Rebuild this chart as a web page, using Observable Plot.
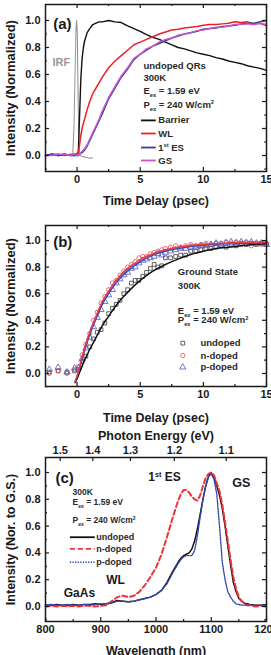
<!DOCTYPE html>
<html><head><meta charset="utf-8">
<script src="https://cdn.jsdelivr.net/npm/d3@7"></script>
<script src="https://cdn.jsdelivr.net/npm/@observablehq/plot@0.6"></script>
<style>
html,body{margin:0;padding:0;background:#fff;}
#wrap{position:relative;width:271px;height:655px;overflow:hidden;background:#fff;}
.panel{position:absolute;left:0;}
</style></head><body><div id="wrap"></div>
<script>
// ---------- Panel (a): undoped QRs, time-resolved PL ----------
const timeA = [-2.5,-2,-1.5,-1,-0.5,-0.25,0,0.1,0.2,0.3,0.4,0.5,0.6,0.8,1,1.25,1.5,1.75,2,2.5,3,3.5,4,4.5,5,5.5,6,6.5,7,7.5,8,8.5,9,9.5,10,10.5,11,11.5,12,12.5,13,13.5,14,14.5,15];
const barrierA = [0.0,0.01,0.0,0.01,0.0,0.01,0.01,0.03,0.3,0.57,0.72,0.8,0.85,0.91,0.94,0.97,0.98,0.99,0.99,1.0,0.99,0.985,0.96,0.94,0.92,0.895,0.875,0.86,0.84,0.82,0.8,0.79,0.775,0.76,0.75,0.74,0.725,0.715,0.7,0.69,0.68,0.665,0.655,0.645,0.63];
const wlA = [0.0,0.01,0.01,0.0,0.01,0.0,0.01,0.02,0.08,0.15,0.2,0.24,0.27,0.34,0.4,0.46,0.5,0.54,0.58,0.65,0.7,0.74,0.78,0.82,0.84,0.86,0.88,0.9,0.915,0.93,0.935,0.945,0.95,0.955,0.965,0.97,0.97,0.975,0.98,0.99,0.985,0.99,0.975,0.98,0.96];
const esA = [0.0,0.01,0.0,0.01,0.0,0.0,0.0,0.0,0.01,0.02,0.02,0.03,0.04,0.07,0.11,0.16,0.21,0.26,0.31,0.42,0.5,0.58,0.64,0.71,0.75,0.78,0.81,0.83,0.85,0.87,0.885,0.9,0.91,0.92,0.935,0.94,0.945,0.955,0.96,0.965,0.975,0.98,0.98,0.99,1.0];
const gsA = [0.0,0.0,0.01,0.01,0.0,0.01,0.0,0.0,0.01,0.02,0.03,0.04,0.05,0.08,0.12,0.17,0.22,0.27,0.33,0.43,0.51,0.59,0.65,0.72,0.75,0.79,0.81,0.84,0.86,0.87,0.89,0.9,0.91,0.925,0.93,0.94,0.95,0.95,0.96,0.97,0.97,0.975,0.97,0.98,0.97];
const irfTime = [-0.35,-0.25,-0.15,-0.08,-0.03,0.02,0.08,0.15,0.25,0.5,0.8,1.1,1.3];
const irfValues = [0.0,0.2,0.65,0.95,1.0,0.9,0.45,0.05,0.0,-0.01,-0.015,-0.02,-0.015];

// ---------- Panel (b): ground state rise ----------
const timeB = [-2.2,-1.5,-0.8,-0.2,0.1,0.4,0.7,1.0,1.3,1.6,1.9,2.2,2.5,2.8,3.1,3.4,3.7,4.0,4.3,4.6,4.9,5.2,5.5,5.8,6.1,6.4,6.7,7.0,7.4,7.8,8.2,8.6,9.0,9.4,9.8,10.2,10.6,11.0,11.4,11.8,12.2,12.6,13.0,13.4,13.8,14.2,14.6,15.0];
const undopedB = [0.01,0.02,0.01,0.02,0.03,0.09,0.13,0.2,0.26,0.31,0.33,0.38,0.45,0.49,0.52,0.55,0.6,0.63,0.68,0.7,0.7,0.73,0.76,0.79,0.82,0.8,0.81,0.87,0.87,0.88,0.89,0.89,0.92,0.92,0.93,0.94,0.94,0.95,0.96,0.95,0.97,0.96,0.98,0.97,0.98,0.97,0.98,0.97];
const ndopedB = [0.0,0.02,0.0,0.03,0.05,0.14,0.22,0.3,0.4,0.46,0.53,0.58,0.63,0.68,0.7,0.74,0.77,0.8,0.82,0.84,0.87,0.88,0.88,0.9,0.91,0.92,0.93,0.94,0.95,0.96,0.95,0.96,0.97,0.96,0.97,0.98,0.97,0.98,0.98,0.99,0.98,0.99,0.97,0.99,0.96,0.98,0.97,0.98];
const pdopedB = [0.03,0.045,0.01,0.04,0.04,0.11,0.19,0.27,0.35,0.42,0.48,0.54,0.59,0.63,0.68,0.71,0.74,0.76,0.79,0.8,0.83,0.85,0.86,0.87,0.88,0.9,0.89,0.91,0.92,0.93,0.94,0.94,0.95,0.95,0.96,0.96,0.97,0.98,0.97,0.98,0.99,0.98,0.99,0.98,0.99,0.98,0.98,0.97];
const fitTimeB = [-0.15,0,0.25,0.5,0.75,1,1.5,2,2.5,3,3.5,4,5,6,7,8,9,10,11,12,13,14,15];
const undopedFit = [-0.07,-0.04,0.02,0.08,0.13,0.18,0.27,0.36,0.43,0.5,0.56,0.61,0.7,0.77,0.82,0.86,0.895,0.92,0.94,0.95,0.96,0.97,0.975];
const ndopedFit = [-0.06,-0.02,0.07,0.16,0.24,0.31,0.43,0.54,0.62,0.69,0.745,0.79,0.855,0.9,0.93,0.95,0.963,0.972,0.978,0.982,0.985,0.987,0.988];
const pdopedFit = [-0.06,-0.02,0.06,0.14,0.22,0.29,0.41,0.52,0.6,0.67,0.725,0.77,0.84,0.89,0.92,0.94,0.955,0.965,0.972,0.977,0.98,0.982,0.984];

// ---------- Panel (c): PL spectra ----------
const wavelength = [800,810,820,830,840,850,860,870,880,890,900,910,920,930,940,950,960,970,980,990,1000,1010,1020,1030,1040,1045,1050,1055,1060,1065,1070,1075,1080,1085,1090,1095,1100,1105,1110,1115,1120,1125,1130,1135,1140,1145,1150,1155,1160,1165,1170,1180,1190,1200];
const undopedC = [0.01,0.01,0.015,0.01,0.01,0.015,0.01,0.015,0.015,0.02,0.015,0.02,0.03,0.045,0.04,0.035,0.04,0.05,0.06,0.07,0.09,0.12,0.18,0.26,0.33,
  0.36,0.38,0.39,0.4,0.43,0.49,0.58,0.69,0.8,0.9,0.97,1.0,0.96,0.9,0.83,0.73,0.6,0.455,0.31,0.18,0.11,0.06,0.04,0.025,0.02,0.015,
  0.01,0.01,0.015];
const ndopedC = [0.0,0.005,0.0,0.005,0.0,0.005,0.0,0.005,0.005,0.0,0.005,0.01,0.04,0.07,0.08,0.07,0.08,0.11,0.16,0.22,0.29,0.39,0.52,0.66,0.79,
  0.84,0.87,0.87,0.85,0.82,0.8,0.79,0.83,0.9,0.96,0.99,1.0,0.98,0.92,0.86,0.76,0.63,0.49,0.35,0.22,0.13,0.07,0.04,0.02,0.01,0.01,
  0.0,0.005,0.0];
const pdopedC = [0.01,0.015,0.01,0.01,0.015,0.01,0.01,0.015,0.01,0.015,0.02,0.02,0.025,0.04,0.04,0.035,0.04,0.05,0.06,0.07,0.09,0.12,0.17,0.25,0.32,
  0.35,0.37,0.38,0.38,0.38,0.42,0.53,0.67,0.8,0.9,0.97,0.99,0.95,0.84,0.6,0.33,0.2,0.11,0.07,0.04,0.02,0.015,0.01,0.01,0.01,0.01,
  0.01,0.01,0.01];

// ---------- ticks ----------
const timeTicks = [0,5,10,15];
const timeMinor = [2.5,7.5,12.5];
const intensityTicks = [0,0.2,0.4,0.6,0.8,1.0];
const intensityMinor = [-0.1,0.1,0.3,0.5,0.7,0.9];
const wavelengthTicks = [800,900,1000,1100,1200];
const wavelengthMinor = [850,950,1050,1150];
const energyTicks = [1.5,1.4,1.3,1.2,1.1];
const HC = 1239.84; // eV*nm

const FONT = "'Liberation Sans', Arial, Helvetica, sans-serif";
const INK = "#1a1a1a";

function edgeTicks({xdom, ydom, iw, ih, xMajor, xMinor, yMajor, yMinor, topMajor = xMajor, topMinor = xMinor}) {
  const ux = (xdom[1]-xdom[0])/iw, uy = (ydom[1]-ydom[0])/ih;
  const st = {stroke: INK, strokeWidth: 1.2};
  const bx = (v, n) => Plot.ruleX(v, {x: d=>d, y1: ydom[0], y2: ydom[0] + n*uy, ...st});
  const tx = (v, n) => Plot.ruleX(v, {x: d=>d, y1: ydom[1], y2: ydom[1] - n*uy, ...st});
  const ly = (v, n) => Plot.ruleY(v, {y: d=>d, x1: xdom[0], x2: xdom[0] + n*ux, ...st});
  const ry = (v, n) => Plot.ruleY(v, {y: d=>d, x1: xdom[1], x2: xdom[1] - n*ux, ...st});
  return [bx(xMajor,4), bx(xMinor,2), tx(topMajor,4), tx(topMinor,2), ly(yMajor,4), ly(yMinor,2), ry(yMajor,4), ry(yMinor,2)];
}
function note(x, y, s, o = {}) {
  return Plot.text([s], {x: () => x, y: () => y, text: d => d, textAnchor: "start", lineAnchor: "middle", fontSize: 9.5, fontWeight: "bold", fill: "#2a2a2a", ...o});
}
function title(s, o) {
  return Plot.text([s], {text: d => d, textAnchor: "middle", lineAnchor: "middle", fontWeight: "bold", fill: INK, ...o});
}
function richify(svg) {
  svg.querySelectorAll("text").forEach(t => {
    if (t.querySelector("tspan")) return;
    const s = t.textContent;
    if (!/[_^]\{/.test(s)) return;
    const fs = parseFloat(getComputedStyle(t).fontSize) || 10;
    t.textContent = "";
    let shift = 0;
    s.split(/([_^]\{[^}]*\})/).forEach(p => {
      if (!p) return;
      let target = 0, size = fs;
      if (p.startsWith("_{")) { target = fs*0.32; size = fs*0.6; p = p.slice(2,-1); }
      else if (p.startsWith("^{")) { target = -fs*0.4; size = fs*0.6; p = p.slice(2,-1); }
      const ts = document.createElementNS("http://www.w3.org/2000/svg", "tspan");
      ts.setAttribute("dy", target - shift); shift = target;
      ts.setAttribute("font-size", size);
      ts.textContent = p;
      t.appendChild(ts);
    });
  });
}
const style = {fontFamily: FONT, fontWeight: "bold", fontSize: "11px", color: INK, background: "white", overflow: "visible"};
const wrap = document.getElementById("wrap");
function place(svg, top) {
  const d = document.createElement("div");
  d.className = "panel"; d.style.top = top + "px";
  d.appendChild(svg); wrap.appendChild(d); richify(svg);
}

// ----- Panel (a) -----
{
  const xdom = [-2.5, 15], ydom = [-0.1185, 1.1185];
  const W = 271, H = 212, mt = 4, mb = 41, ml = 45, mr = 5;
  const cols = {Barrier: "#111111", WL: "#ec2027", ES: "#2e3fa8", GS: "#c955c8"};
  const svg = Plot.plot({
    width: W, height: H, marginTop: mt, marginBottom: mb, marginLeft: ml, marginRight: mr,
    style, x: {domain: xdom}, y: {domain: ydom},
    marks: [
      Plot.axisX(timeTicks, {tickSize: 0, tickPadding: 4, label: null, fontSize: 11}),
      Plot.axisY(intensityTicks, {tickSize: 0, tickPadding: 5, tickFormat: ".1f", label: null, fontSize: 11}),
      title("Time Delay (psec)", {frameAnchor: "bottom", dy: 29, fontSize: 12.5}),
      title("Intensity (Normalized)", {frameAnchor: "left", rotate: -90, dx: -35, fontSize: 13}),
      Plot.line(irfTime, {x: irfTime, y: irfValues, stroke: "#8f8f8f", strokeWidth: 1.1, strokeDasharray: "1,1"}),
      Plot.line(timeA, {x: timeA, y: barrierA, stroke: cols.Barrier, strokeWidth: 1.4}),
      Plot.line(timeA, {x: timeA, y: wlA, stroke: cols.WL, strokeWidth: 1.5}),
      Plot.line(timeA, {x: timeA, y: esA, stroke: cols.ES, strokeWidth: 1.5}),
      Plot.line(timeA, {x: timeA, y: gsA, stroke: cols.GS, strokeWidth: 1.5}),
      note(-1.89, 0.975, "(a)", {fontSize: 15, fill: INK}),
      note(-1.95, 0.69, "IRF", {fontSize: 11, fill: "#999"}),
      note(5.26, 0.667, "undoped QRs"),
      note(5.26, 0.578, "300K"),
      note(5.26, 0.48, "E_{ex} = 1.59 eV"),
      note(5.26, 0.378, "P_{ex} = 240 W/cm^{2}"),
      Plot.ruleY([0.26], {x1: 5.1, x2: 6.27, stroke: cols.Barrier, strokeWidth: 1.8}),
      Plot.ruleY([0.163], {x1: 5.1, x2: 6.27, stroke: cols.WL, strokeWidth: 1.8}),
      Plot.ruleY([0.059], {x1: 5.1, x2: 6.27, stroke: cols.ES, strokeWidth: 1.8}),
      Plot.ruleY([-0.037], {x1: 5.1, x2: 6.27, stroke: cols.GS, strokeWidth: 1.8}),
      note(6.43, 0.26, "Barrier"),
      note(6.43, 0.163, "WL"),
      note(6.43, 0.059, "1^{st} ES"),
      note(6.43, -0.037, "GS"),
      ...edgeTicks({xdom, ydom, iw: W-ml-mr, ih: H-mt-mb, xMajor: timeTicks, xMinor: timeMinor, yMajor: intensityTicks, yMinor: intensityMinor}),
      Plot.frame({stroke: INK, strokeWidth: 1.5})
    ]
  });
  place(svg, 0);
}

// ----- Panel (b) -----
{
  const xdom = [-2.5, 15], ydom = [-0.098, 1.113];
  const W = 271, H = 218, mt = 13, mb = 44, ml = 45, mr = 5;
  const cols = {un: "#3a3a3a", n: "#e8474f", p: "#4a5ac4", unL: "#111", nL: "#e83a40", pL: "#3b4cc0"};
  const svg = Plot.plot({
    width: W, height: H, marginTop: mt, marginBottom: mb, marginLeft: ml, marginRight: mr,
    style, x: {domain: xdom}, y: {domain: ydom},
    marks: [
      Plot.axisX(timeTicks, {tickSize: 0, tickPadding: 4, label: null, fontSize: 11}),
      Plot.axisY(intensityTicks, {tickSize: 0, tickPadding: 5, tickFormat: ".1f", label: null, fontSize: 11}),
      title("Time Delay (psec)", {frameAnchor: "bottom", dy: 31, fontSize: 12.5}),
      title("Intensity (Normalized)", {frameAnchor: "left", rotate: -90, dx: -35, fontSize: 13}),
      Plot.dot(timeB, {x: timeB, y: undopedB, symbol: "square", r: 2.1, stroke: cols.un, strokeWidth: 0.8, fill: "none"}),
      Plot.dot(timeB, {x: timeB, y: ndopedB, symbol: "circle", r: 2.1, stroke: cols.n, strokeWidth: 0.8, fill: "none"}),
      Plot.dot(timeB, {x: timeB, y: pdopedB, symbol: "triangle", r: 2.3, stroke: cols.p, strokeWidth: 0.8, fill: "none"}),
      Plot.line(fitTimeB, {x: fitTimeB, y: undopedFit, stroke: cols.unL, strokeWidth: 1.5, curve: "monotone-x"}),
      Plot.line(fitTimeB, {x: fitTimeB, y: pdopedFit, stroke: cols.pL, strokeWidth: 1.5, curve: "monotone-x"}),
      Plot.line(fitTimeB, {x: fitTimeB, y: ndopedFit, stroke: cols.nL, strokeWidth: 1.5, curve: "monotone-x"}),
      note(-1.89, 0.985, "(b)", {fontSize: 15, fill: INK}),
      note(7.98, 0.76, "Ground State"),
      note(7.98, 0.66, "300K"),
      note(7.98, 0.474, "E_{ex} = 1.59 eV"),
      note(7.98, 0.40, "P_{ex} = 240 W/cm^{2}"),
      Plot.dot([0], {x: () => 8.37, y: () => 0.228, symbol: "square", r: 2.1, stroke: cols.un, strokeWidth: 0.8, fill: "none"}),
      Plot.dot([0], {x: () => 8.37, y: () => 0.135, symbol: "circle", r: 2.1, stroke: cols.n, strokeWidth: 0.8, fill: "none"}),
      Plot.dot([0], {x: () => 8.37, y: () => 0.047, symbol: "triangle", r: 2.3, stroke: cols.p, strokeWidth: 0.8, fill: "none"}),
      note(9.77, 0.228, "undoped"),
      note(9.77, 0.135, "n-doped"),
      note(9.77, 0.047, "p-doped"),
      ...edgeTicks({xdom, ydom, iw: W-ml-mr, ih: H-mt-mb, xMajor: timeTicks, xMinor: timeMinor, yMajor: intensityTicks, yMinor: intensityMinor}),
      Plot.frame({stroke: INK, strokeWidth: 1.5})
    ]
  });
  place(svg, 212);
}

// ----- Panel (c) -----
{
  const xdom = [800, 1200], ydom = [-0.112, 1.112];
  const W = 271, H = 225, mt = 27, mb = 34, ml = 45, mr = 5;
  const cols = {un: "#111111", n: "#f0323a", p: "#3447b0"};
  const energyPos = energyTicks.map(e => HC / e);
  const svg = Plot.plot({
    width: W, height: H, marginTop: mt, marginBottom: mb, marginLeft: ml, marginRight: mr,
    style, x: {domain: xdom}, y: {domain: ydom},
    marks: [
      Plot.axisX(wavelengthTicks, {tickSize: 0, tickPadding: 4, label: null, fontSize: 11, tickFormat: "d"}),
      Plot.axisX(energyPos, {anchor: "top", tickSize: 0, tickPadding: 4, label: null, fontSize: 11, tickFormat: w => (HC / w).toFixed(1)}),
      Plot.axisY(intensityTicks, {tickSize: 0, tickPadding: 5, tickFormat: ".1f", label: null, fontSize: 11}),
      title("Wavelength (nm)", {frameAnchor: "bottom", dy: 29, fontSize: 12.5}),
      title("Photon Energy (eV)", {frameAnchor: "top", dy: -22, fontSize: 12.5}),
      title("Intensity (Nor. to G.S.)", {frameAnchor: "left", rotate: -90, dx: -35, fontSize: 12.5}),
      Plot.line(wavelength, {x: wavelength, y: undopedC, stroke: cols.un, strokeWidth: 1.5}),
      Plot.line(wavelength, {x: wavelength, y: ndopedC, stroke: cols.n, strokeWidth: 2, strokeDasharray: "5,3"}),
      Plot.line(wavelength, {x: wavelength, y: pdopedC, stroke: cols.p, strokeWidth: 1.4, strokeDasharray: "1.3,1.3"}),
      note(818, 0.955, "(c)", {fontSize: 15, fill: INK}),
      note(986, 0.963, "1^{st} ES", {fontSize: 12, fill: INK}),
      note(1138, 0.925, "GS", {fontSize: 12.5, fill: INK}),
      note(910, 0.194, "WL", {fontSize: 12, fill: INK}),
      note(833, 0.097, "GaAs", {fontSize: 12, fill: INK}),
      note(849, 0.85, "300K", {fontSize: 8.5}),
      note(849, 0.776, "E_{ex} = 1.59 eV", {fontSize: 8.5}),
      note(849, 0.64, "P_{ex} = 240 W/cm^{2}", {fontSize: 8.5}),
      Plot.ruleY([0.517], {x1: 845, x2: 890, stroke: cols.un, strokeWidth: 1.8}),
      Plot.ruleY([0.43], {x1: 845, x2: 890, stroke: cols.n, strokeWidth: 1.8, strokeDasharray: "5,3"}),
      Plot.ruleY([0.33], {x1: 845, x2: 890, stroke: cols.p, strokeWidth: 1.4, strokeDasharray: "1.3,1.3"}),
      note(892, 0.517, "undoped", {fontSize: 9}),
      note(892, 0.43, "n-doped", {fontSize: 9}),
      note(892, 0.33, "p-doped", {fontSize: 9}),
      ...edgeTicks({xdom, ydom, iw: W-ml-mr, ih: H-mt-mb, xMajor: wavelengthTicks, xMinor: wavelengthMinor, yMajor: intensityTicks, yMinor: intensityMinor, topMajor: energyPos, topMinor: []}),
      Plot.frame({stroke: INK, strokeWidth: 1.5})
    ]
  });
  place(svg, 430);
}
</script></body></html>
